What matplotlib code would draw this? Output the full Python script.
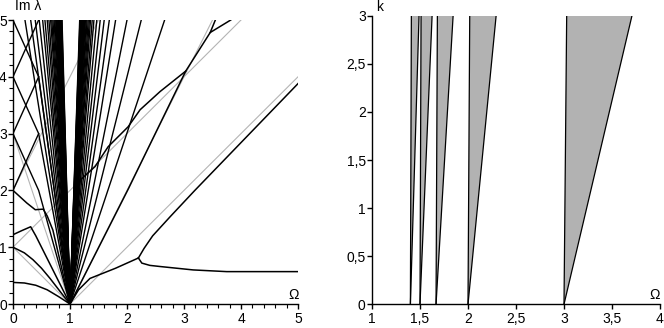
import matplotlib
matplotlib.use("Agg")
import matplotlib.pyplot as plt
from matplotlib.ticker import MultipleLocator, FuncFormatter

plt.rcParams['font.family'] = ['Liberation Sans', 'DejaVu Sans']

# ---------------- left panel data (Omega, Im lambda) ----------------
# fan lines to the left of Omega=1: where they meet Im=5 (they all end at (1,0))
left_fan_top = [0.21, 0.31, 0.39, 0.46, 0.52, 0.56, 0.60, 0.63, 0.66, 0.68, 0.70,
                0.72, 0.735, 0.75, 0.76, 0.77, 0.78, 0.79, 0.80, 0.81, 0.815, 0.82,
                0.83, 0.835, 0.84, 0.845, 0.85, 0.855, 0.86]
# fan lines to the right of Omega=1: where they meet Im=5
right_fan_top = [2.66, 2.25, 2.0, 1.80, 1.69, 1.60, 1.53, 1.47, 1.42, 1.39, 1.36,
                 1.34, 1.32, 1.30, 1.285, 1.27, 1.26, 1.25, 1.24, 1.23, 1.22, 1.21,
                 1.205, 1.20, 1.19, 1.185, 1.18, 1.175, 1.17]
# rising black segments leaving the Omega=0 axis
rise_y0 = [2.0, 3.0, 4.0]
rise_x1 = [0.45, 0.45, 0.45]
rise_y1 = [3.0, 4.0, 5.0]
# falling black branches leaving the Omega=0 axis (start, kink, then to (1,0))
fall_y0 = [3.0, 4.0, 5.0]
fall_xk = [0.45, 0.45, 0.45]
fall_yk = [2.0, 3.0, 4.0]

# curved branches
curve_A_x = [0, 0.2, 0.4, 0.6, 0.8, 1.0]
curve_A_y = [0.38, 0.37, 0.33, 0.25, 0.13, 0.0]
curve_B_x = [0, 0.2, 0.35, 0.5, 0.65, 0.85, 1.0]
curve_B_y = [1.0, 0.9, 0.78, 0.63, 0.45, 0.19, 0.0]
curve_C_x = [0, 0.15, 0.31, 0.4, 0.6, 0.8, 1.0]
curve_C_y = [1.22, 1.29, 1.36, 1.2, 0.8, 0.4, 0.0]
curve_D_x = [0, 0.24, 0.39, 0.53, 0.6, 0.7, 0.85, 1.0]
curve_D_y = [2.0, 1.78, 1.66, 1.67, 1.55, 1.3, 0.65, 0.0]

two_x = [1.0, 2.02, 3.03, 3.46, 3.55]
two_y = [0.0, 2.02, 4.10, 4.78, 5.0]
fork_x = [3.46, 3.82]
fork_y = [4.78, 5.0]
chain_x = [1.2, 1.44, 1.67, 2.02, 2.23, 2.58, 3.03]
chain_y = [2.2, 2.42, 2.77, 3.12, 3.42, 3.74, 4.10]
low_x = [1.0, 1.15, 1.35, 1.8, 2.2]
low_y = [0.0, 0.25, 0.45, 0.63, 0.81]
upper_x = [2.2, 2.3, 2.45, 2.76, 3.19, 5.0]
upper_y = [0.81, 0.98, 1.2, 1.54, 2.0, 3.88]
lower_x = [2.2, 2.26, 2.4, 2.58, 3.16, 3.75, 5.0]
lower_y = [0.81, 0.72, 0.68, 0.66, 0.60, 0.57, 0.57]

# grey asymptotes
gray_x0 = [0, 0, 0, 0, 1, 1]
gray_y0 = [1, 1, 2, 3, 0, 0]
gray_x1 = [1, 4, 1.5, 1, 5, 3.5]
gray_y1 = [0, 5, 5, 0, 4, 5]

# ---------------- right panel data (Omega, k) ----------------
wedge_base = [3.0, 2.0, 1.667, 1.5, 1.4]
wedge_left_top = [3.028, 2.018, 1.681, 1.511, 1.41]
wedge_right_top = [3.708, 2.293, 1.845, 1.626, 1.49]
k_top = 3.0

W, H = 664, 328
fig = plt.figure(figsize=(W / 100, H / 100), dpi=100)

BLACK_LW = 1.0
GRAY = '#b4b4b4'

ax1 = fig.add_axes([13 / W, (H - 304) / H, 285 / W, 284 / H])
for x0, y0, x1, y1 in zip(gray_x0, gray_y0, gray_x1, gray_y1):
    ax1.plot([x0, x1], [y0, y1], color=GRAY, lw=0.8, zorder=1)
for xt in left_fan_top:
    ax1.plot([xt, 1.0], [5.0, 0.0], color='black', lw=BLACK_LW, zorder=2)
for xt in right_fan_top:
    ax1.plot([1.0, xt], [0.0, 5.0], color='black', lw=BLACK_LW, zorder=2)
for y0, x1, y1 in zip(rise_y0, rise_x1, rise_y1):
    ax1.plot([0.0, x1], [y0, y1], color='black', lw=BLACK_LW, zorder=2)
for y0, xk, yk in zip(fall_y0, fall_xk, fall_yk):
    ax1.plot([0.0, xk, 1.0], [y0, yk, 0.0], color='black', lw=BLACK_LW, zorder=2)
for cx, cy in [(curve_A_x, curve_A_y), (curve_B_x, curve_B_y), (curve_C_x, curve_C_y),
               (curve_D_x, curve_D_y), (two_x, two_y), (fork_x, fork_y),
               (chain_x, chain_y), (low_x, low_y), (upper_x, upper_y), (lower_x, lower_y)]:
    ax1.plot(cx, cy, color='black', lw=BLACK_LW + 0.1, zorder=3)

ax1.set_xlim(0, 5)
ax1.set_ylim(0, 5)
ax1.xaxis.set_major_locator(MultipleLocator(1))
ax1.xaxis.set_minor_locator(MultipleLocator(0.2))
ax1.yaxis.set_major_locator(MultipleLocator(1))
ax1.yaxis.set_minor_locator(MultipleLocator(0.2))

ax2 = fig.add_axes([372 / W, (H - 304.3) / H, 288 / W, 288.6 / H])
for b, lt, rt in zip(wedge_base, wedge_left_top, wedge_right_top):
    ax2.fill([b, lt, rt], [0, k_top, k_top], color='#b2b2b2', lw=0, zorder=1)
    ax2.plot([b, lt], [0, k_top], color='black', lw=0.9, zorder=2)
    ax2.plot([b, rt], [0, k_top], color='black', lw=0.9, zorder=2)
ax2.set_xlim(1, 4)
ax2.set_ylim(0, 3)
ax2.xaxis.set_major_locator(MultipleLocator(0.5))
ax2.yaxis.set_major_locator(MultipleLocator(0.5))

def comma(v, pos):
    s = ('%g' % v)
    return s.replace('.', ',')

for ax in (ax1, ax2):
    ax.spines['top'].set_visible(False)
    ax.spines['right'].set_visible(False)
    ax.spines['left'].set_linewidth(1.0)
    ax.spines['bottom'].set_linewidth(1.0)
    ax.tick_params(which='major', direction='out', length=3.5, width=1.0,
                   labelsize=10, pad=1)
    ax.tick_params(which='minor', direction='out', length=3, width=0.8)
    ax.xaxis.set_major_formatter(FuncFormatter(comma))
    ax.yaxis.set_major_formatter(FuncFormatter(comma))
ax1.tick_params(axis='x', which='major', pad=2)
ax2.tick_params(axis='x', which='major', pad=2)

fig.text(15 / W, 1 - 6 / H, 'Im λ', fontsize=10, ha='left', va='center')
fig.text(380 / W, 1 - 7 / H, 'k', fontsize=10, ha='center', va='center')
fig.text(294 / W, 1 - 295 / H, 'Ω', fontsize=10, ha='center', va='center')
fig.text(655 / W, 1 - 295 / H, 'Ω', fontsize=10, ha='center', va='center')

fig.savefig('out.png', dpi=100)
